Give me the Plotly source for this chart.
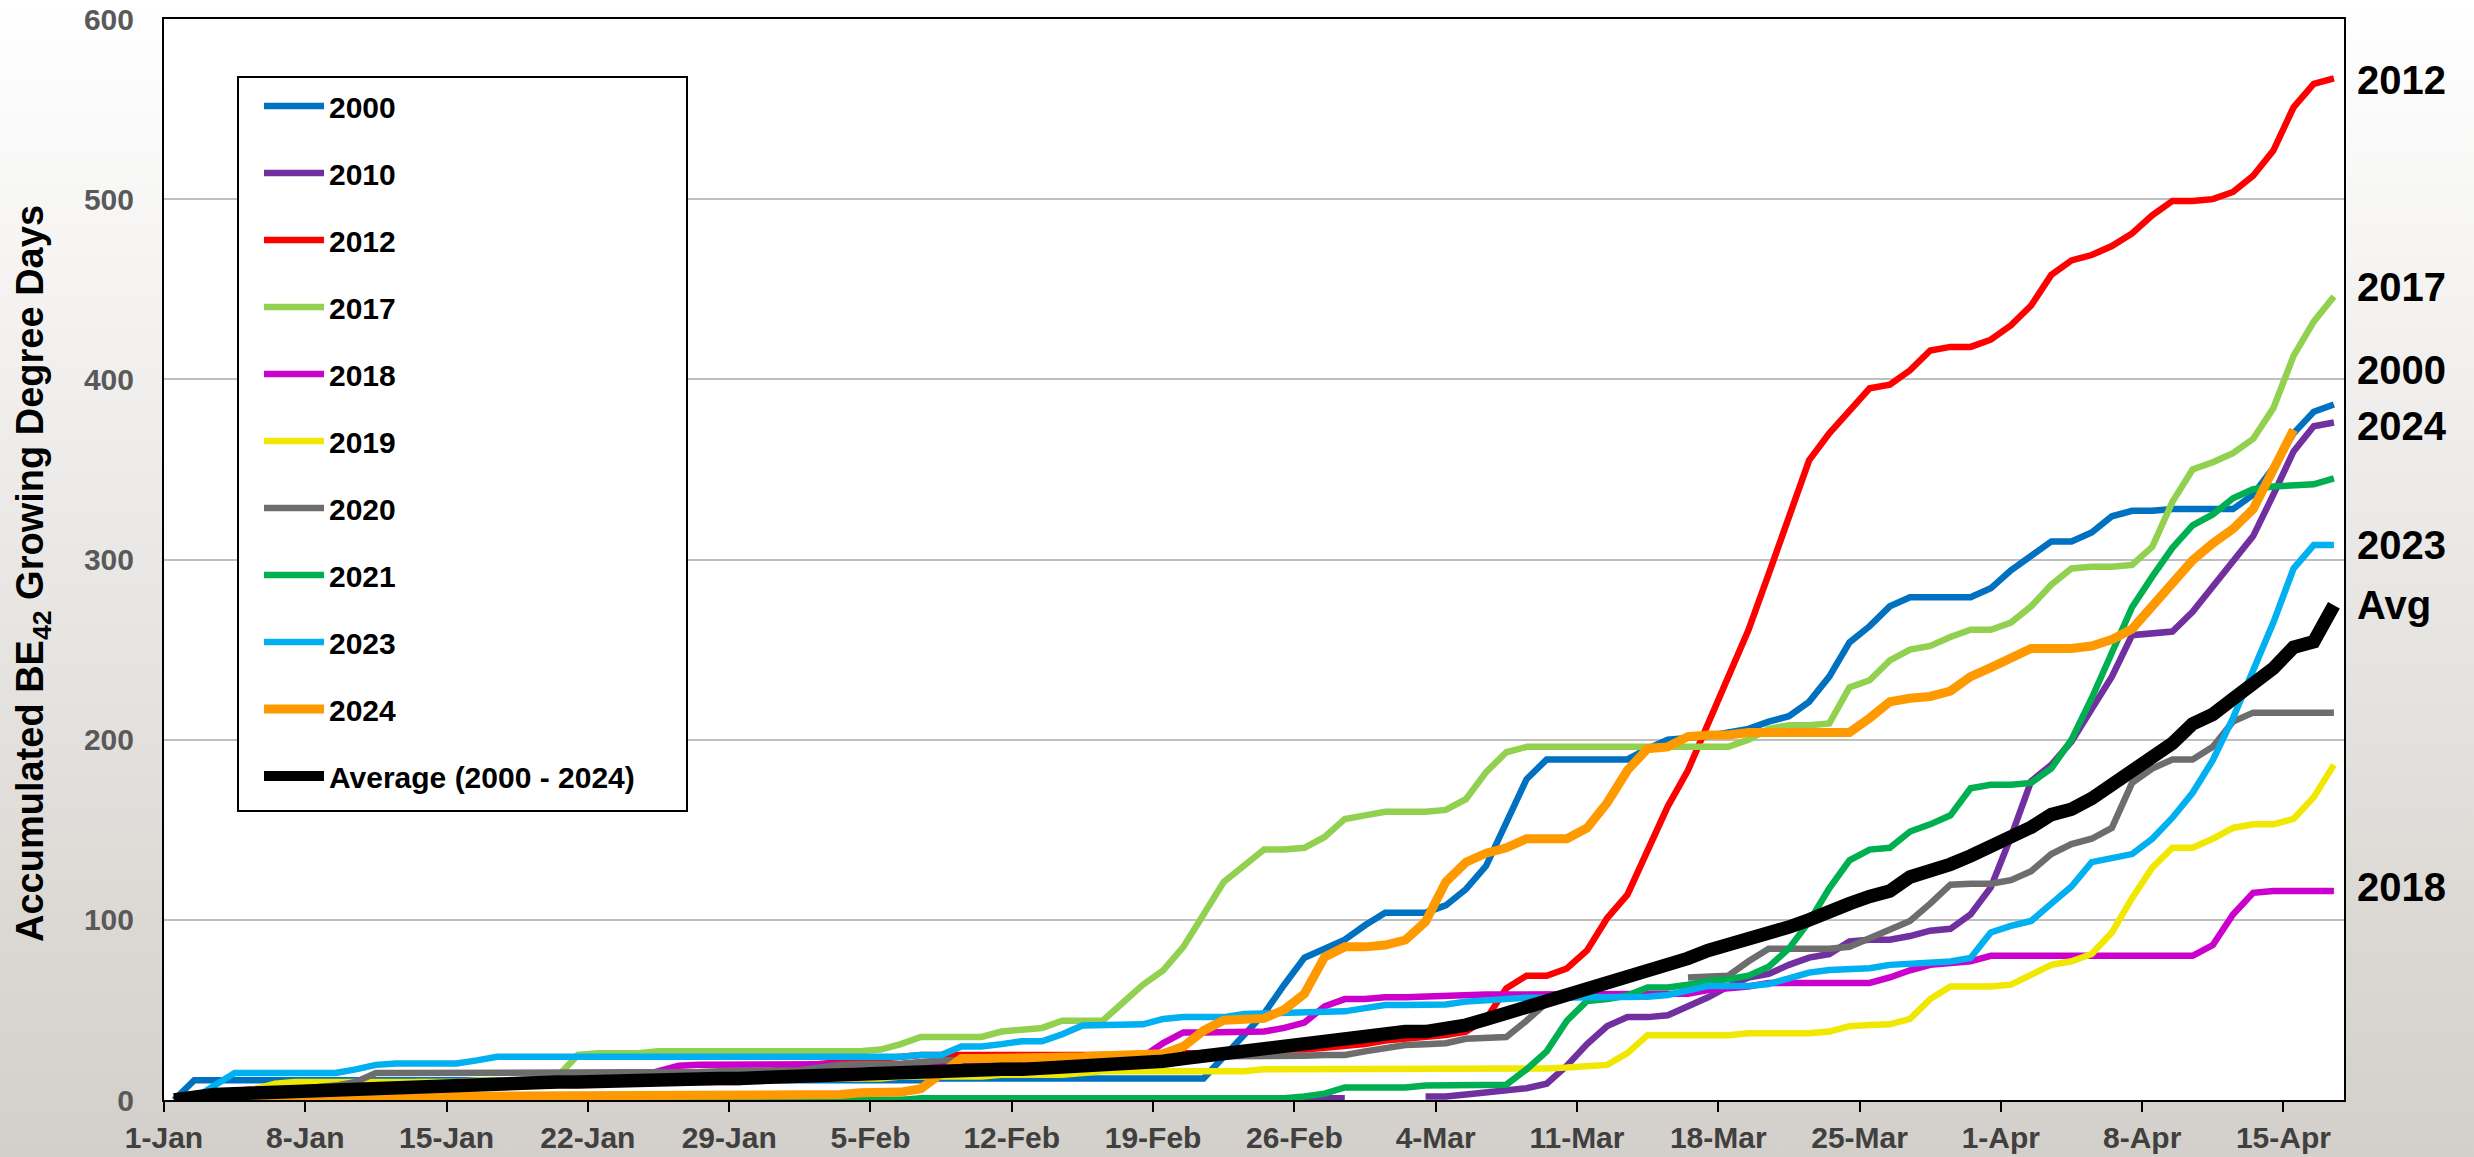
import base64
import pandas as pd
import plotly.graph_objects as go

# ---------------- data (daily accumulated BE42 GDD, 1-Jan .. 17-Apr) ----------------
N_DAYS = 108
day_dates = pd.date_range("2024-01-01 12:00", periods=N_DAYS, freq="D")

y2000 = [
    0, 11, 11, 11, 11, 11, 11, 11, 11, 11,
    11, 11, 11, 11, 11, 11, 11, 11, 11, 11,
    11, 11, 11, 11, 11, 11, 11, 11, 11, 11,
    11, 11, 11, 11, 11, 11, 11, 11, 12, 12,
    12, 12, 12, 12, 12, 12, 12, 12, 12, 12,
    12, 12, 24, 36, 48, 64, 79, 84, 89, 97,
    104, 104, 104, 108, 117, 130, 154, 178, 189, 189,
    189, 189, 189, 195, 200, 201, 202, 204, 206, 210,
    213, 221, 235, 254, 263, 274, 279, 279, 279, 279,
    284, 294, 302, 310, 310, 315, 324, 327, 327, 328,
    328, 328, 328, 336, 351, 370, 382, 386,
]
y2010 = [
    0, 0, 0, 0, 0, 0, 0, 0, 0, 0,
    0, 0, 0, 0, 0, 0, 0, 0, 0, 0,
    0, 0, 0, 0, 0, 0, 0, 0, 0, 0,
    0, 0, 0, 0, 0, 0, 0, 0, 0, 0,
    1, 1, 1, 1, 1, 1, 1, 1, 1, 1,
    1, 1, 1, 1, 1, 1, 1, 1, 1, None,
    None, None, 2, 2, 3, 4, 5, 6.5, 9, 19,
    31, 41, 46, 46, 47, 52, 57, 63, 68, 70,
    75, 79, 81, 88, 89, 89, 91, 94, 95, 103,
    118, 146, 177, 186, 199, 217, 235, 258, 259, 260,
    271, 285, 299, 313, 336, 360, 374, 376,
]
y2012 = [
    0, 2, 4, 5, 6, 8, 8, 8, 8, 9,
    9, 9, 9, 9, 10, 10, 10, 10, 10, 10,
    10, 10, 10, 10, 10, 10, 10, 10, 10, 11,
    18, 19, 20, 21, 22, 23, 24, 25, 25, 25,
    25, 25, 25, 25, 25, 25, 25, 25, 25, 26,
    26, 26, 27, 27, 27, 28, 28, 29, 30, 31,
    33, 34, 35, 36, 38, 45, 62, 69, 69, 73,
    83, 101, 114, 138, 163, 183, 209, 233, 261, 292,
    324, 355, 370, 383, 395, 397, 405, 416, 418, 418,
    422, 430, 441, 458, 466, 469, 474, 481, 491, 499,
    499, 500, 504, 513, 527, 551, 564, 567,
]
y2017 = [
    0, 0, 1, 2, 3, 4, 5, 5, 6, 7,
    8, 9, 10, 10, 10, 11, 11, 11, 12, 13,
    25, 26, 26, 26, 27, 27, 27, 27, 27, 27,
    27, 27, 27, 27, 27, 28, 31, 35, 35, 35,
    35, 38, 39, 40, 44, 44, 44, 54, 64, 72,
    85, 103, 121, 130, 139, 139, 140, 146, 156, 158,
    160, 160, 160, 161, 167, 182, 193, 196, 196, 196,
    196, 196, 196, 196, 196, 196, 196, 196, 200, 206,
    208, 208, 209, 229, 233, 244, 250, 252, 257, 261,
    261, 265, 274, 286, 295, 296, 296, 297, 307, 332,
    350, 354, 359, 367, 384, 413, 432, 446,
]
y2018 = [
    0, 0, 1, 2, 3, 4, 5, 6, 7, 8,
    8, 9, 9, 9, 10, 10, 10, 11, 11, 11,
    12, 12, 13, 13, 16, 19, 19.5, 19.5, 19.5, 19.5,
    19.5, 19.5, 19.5, 19.5, 20, 20, 20, 21, 21, 21,
    21, 22, 22, 22, 22, 22, 22, 23, 24, 31.6,
    37.5, 37.5, 37.5, 38, 38, 40, 43, 52, 56, 56,
    57, 57, 57.5, 58, 58.5, 58.5, 58.5, 58.5, 58.5, 58.5,
    58.5, 58.5, 58.5, 58.5, 58.5, 59, 61, 62, 63, 65,
    65, 65, 65, 65, 65, 68, 72, 75, 76, 77,
    80, 80, 80, 80, 80, 80, 80, 80, 80, 80,
    80, 86, 103, 115, 116, 116, 116, 116,
]
y2019 = [
    0, 1, 2, 4, 6, 9, 10, 10, 10, 10,
    10, 10, 10, 10, 10, 10, 10, 10, 10, 10,
    10, 11, 11, 11, 11, 11, 11, 11, 11, 11,
    11, 12, 12, 12, 12, 12, 13, 13, 13, 13,
    13, 14, 14, 14, 14, 15, 16, 16, 16, 16,
    16, 16, 16, 16, 17, 17, 17, 17, 17, 17,
    17, 17, 17, 17, 17, 17, 17, 17, 17.5, 18,
    18.5, 19.5, 26, 36, 36, 36, 36, 36, 37, 37,
    37, 37, 38, 41, 41.6, 42, 45, 56, 63, 63,
    63, 64, 70, 75, 77, 81, 93, 112, 129, 140,
    140, 145, 151, 153, 153, 156, 168, 186,
]
y2020 = [
    0, 1, 2, 3, 4, 5, 6, 7, 8, 10,
    15, 15, 15, 15, 15, 15, 15, 15, 15, 15,
    15, 15, 15, 15, 15, 15.5, 15.5, 16, 16, 16,
    16, 16.5, 18, 19.5, 20, 20, 20, 21, 22, 22,
    22, 22, 23, 23, 23, 23, 23, 23, 24, 24,
    24, 24, 24, 24, 24, 24, 24.5, 25, 25, 27,
    29, 30.5, 31, 31.5, 34, 34.5, 35, 44, 54, None,
    None, None, None, None, None, 68, 68.5, 69, 77, 84,
    84, 84, 84, 85, 90, 94.5, 99.4, 109, 119.5, 120,
    120, 122, 127, 136.5, 142, 145, 151, 176, 184, 189,
    189, 196, 210, 215, 215, 215, 215, 215,
]
y2021 = [
    0, 0, 0, 0, 0, 0, 0, 0, 0, 0,
    0, 0, 0, 0, 0, 0, 0, 0, 0, 0,
    0, 0, 0, 0, 0, 0, 0, 0, 0, 0,
    0, 0, 0, 0, 0, 0, 0, 1, 1, 1,
    1, 1, 1, 1, 1, 1, 1, 1, 1, 1,
    1, 1, 1, 1, 1, 1, 2, 3.5, 7, 7,
    7, 7, 8, 8, 8, 8, 8.5, 17, 27, 44,
    55, 56, 58, 62.5, 62.5, 64, 66, 67, 69, 74,
    84, 99, 117.5, 133, 139, 140, 149, 153, 158, 173,
    175, 175, 176, 184, 200, 223, 248, 273.5, 290.5, 306.5,
    319, 325, 334, 339, 340.5, 341, 341.7, 345,
]
y2023 = [
    0, 1, 8, 15, 15, 15, 15, 15, 15, 17,
    19.5, 20.3, 20.3, 20.3, 20.3, 22, 24, 24, 24, 24,
    24, 24, 24, 24, 24, 24, 24, 24, 24, 24,
    24, 24, 24, 24, 24, 24, 24, 25, 25, 29.7,
    29.7, 31, 32.6, 32.6, 36.5, 41.4, 41.4, 41.4, 42, 45,
    46, 46, 46, 47.8, 48.2, 48.2, 48.6, 48.6, 49.2, 51,
    52.7, 52.7, 52.7, 53, 54.6, 55.5, 56.7, 56.8, 56.8, 56.8,
    56.8, 56.8, 56.8, 57.3, 58.3, 61, 63.3, 63.3, 63.3, 64.4,
    67.5, 70.7, 72.2, 73.1, 73.1, 75, 75.9, 76.4, 76.9, 78.8,
    93, 96.6, 99.4, 109, 118.5, 132, 134.4, 136.5, 145, 156.7,
    170.5, 188.6, 212, 237.4, 265, 295, 308, 308,
]
y2024 = [
    0, 0, 0, 0, 0, 0, 0, 1, 1, 1,
    1, 1, 1, 2, 2, 2, 2, 2, 2, 2,
    2, 2, 2, 2, 2, 2, 2, 2, 2, 2,
    2, 2, 3, 3, 4, 4.4, 4.4, 6.3, 15, 23,
    23, 23, 23.5, 23.5, 24, 24, 24.5, 24.5, 25, 25.7,
    29.7, 38.5, 44.3, 45.3, 45.3, 50.2, 59, 79.4, 85, 85,
    86, 88.8, 99, 121, 132, 137, 140, 145, 145, 145,
    151, 165, 183, 195, 196, 201.7, 202.6, 202.6, 204, 204,
    204, 204, 204, 204, 212, 221, 223, 224, 227, 235,
    240, 246, 250.6, 250.6, 250.6, 252, 255.6, 261.4, 274.7, 288,
    299.6, 309, 317, 328, 351, 372, None, None,
]
y_avg = [
    0, 2, 3, 3.5, 4, 4.5, 5, 5.5, 6, 6.5,
    7, 7.5, 8, 8, 8.5, 9, 9, 9.5, 9.5, 10,
    10, 10.5, 10.5, 11, 11, 11.5, 11.5, 12, 12, 12.5,
    12.5, 13, 13, 13.5, 13.5, 14, 14.5, 15, 15.5, 16,
    16.5, 17, 17, 17.5, 18, 18.5, 19, 19.5, 20.5, 21.5,
    23, 24.5, 26, 27.5, 28.7, 30, 31, 33, 34.6, 36,
    37, 38, 38, 39, 41.6, 44.8, 48, 51.8, 55.5, 59,
    62, 64.8, 68.4, 72, 75, 78.6, 83, 86, 88.8, 92.5,
    96, 100, 103.6, 109, 113, 116, 123.8, 127, 130.8, 135.5,
    140.8, 145.7, 151.4, 158.4, 161.4, 167.3, 174.8, 181.8, 188.6, 198,
    208.8, 214, 222.6, 230, 239.6, 251.3, 254.4, 274.6,
]

series_names = ["2000", "2010", "2012", "2017", "2018", "2019", "2020",
                "2021", "2023", "2024", "Average (2000 - 2024)"]
series_values = [y2000, y2010, y2012, y2017, y2018, y2019, y2020,
                 y2021, y2023, y2024, y_avg]

# end-of-line labels on the right side (text and the GDD level they sit at)
end_labels = ["2012", "2017", "2000", "2024", "2023", "Avg", "2018"]
end_label_levels = [566, 451, 405, 374, 308, 275, 118]

y_tick_values = [0, 100, 200, 300, 400, 500, 600]

# ---------------- styles ----------------
colors = ["#0070C0", "#7030A0", "#FF0000", "#92D050", "#CC00CC", "#F0E800",
          "#6D6D6D", "#00B050", "#00B0F0", "#FF9900", "#000000"]
widths = [6.5, 6.5, 6.5, 6.5, 6.5, 6.5, 6.5, 6.5, 6.5, 9, 13.5]

W, H = 2474, 1157
ML, MR, MT, MB = 164, 130, 19, 57
PW, PH = W - ML - MR, H - MT - MB

FONT = "Liberation Sans, Arial, sans-serif"

fig = go.Figure()
for i, (name, vals, col, lw) in enumerate(zip(series_names, series_values, colors, widths)):
    fig.add_trace(go.Scatter(
        x=day_dates, y=vals, name=name, mode="lines",
        line=dict(color=col, width=lw),
        legendgroup=f"g{i}", connectgaps=False, hoverinfo="skip",
    ))

# background gradient (page) via an inline SVG image, white plot area on top of it
svg = ('<svg xmlns="http://www.w3.org/2000/svg" viewBox="0 0 1 1" preserveAspectRatio="none">'
       '<defs><linearGradient id="g" x1="0" y1="0" x2="0" y2="1">'
       '<stop offset="0" stop-color="#FFFFFF"/><stop offset="1" stop-color="#D3CFCA"/>'
       '</linearGradient></defs><rect x="0" y="0" width="1" height="1" fill="url(#g)"/></svg>')
src = "data:image/svg+xml;base64," + base64.b64encode(svg.encode()).decode()

# legend frame (pixel box of the reference legend)
LEG_L, LEG_R, LEG_T, LEG_B = 238, 687, 77, 811

annotations = [dict(
    text="Accumulated BE<sub>42</sub> Growing Degree Days",
    xref="paper", yref="paper", x=(33 - ML) / PW, y=(H - MB - 574) / PH,
    textangle=-90, showarrow=False, xanchor="center", yanchor="middle",
    font=dict(family=FONT, size=38, color="black", weight="bold"),
)]
for txt, lvl in zip(end_labels, end_label_levels):
    annotations.append(dict(
        text=txt, xref="paper", yref="y", x=(2355 - ML) / PW, y=lvl,
        showarrow=False, xanchor="left", yanchor="middle",
        font=dict(family=FONT, size=40, color="black", weight="bold"),
    ))

fig.update_layout(
    width=W, height=H,
    margin=dict(l=ML, r=MR, t=MT, b=MB, autoexpand=False),
    paper_bgcolor="#E8E6E3",
    plot_bgcolor="white",
    images=[dict(source=src, xref="paper", yref="paper",
                 x=-ML / PW, y=1 + MT / PH, sizex=W / PW, sizey=H / PH,
                 sizing="stretch", layer="below", xanchor="left", yanchor="top")],
    shapes=[
        dict(type="rect", xref="paper", yref="paper", x0=0, x1=1, y0=0, y1=1,
             fillcolor="white", line=dict(width=0), layer="below"),
        dict(type="rect", xref="paper", yref="paper",
             x0=(LEG_L - ML) / PW, x1=(LEG_R - ML) / PW,
             y0=(H - MB - LEG_B) / PH, y1=(H - MB - LEG_T) / PH,
             fillcolor="white", line=dict(color="black", width=2), layer="above"),
    ],
    showlegend=True,
    legend=dict(
        x=(LEG_L + 21 - ML) / PW, y=(H - MB - LEG_T - 3) / PH, xanchor="left", yanchor="top",
        bgcolor="rgba(0,0,0,0)", borderwidth=0,
        font=dict(family=FONT, size=30, color="black", weight="bold"),
        tracegroupgap=25, itemwidth=60, traceorder="grouped",
    ),
    xaxis=dict(
        type="date", range=["2024-01-01", "2024-04-18"],
        tick0="2024-01-01", dtick=7 * 86400000, tickformat="%-d-%b",
        ticks="outside", ticklen=10, tickwidth=2, tickcolor="black",
        showline=True, linecolor="black", linewidth=2, mirror=True,
        showgrid=False, zeroline=False,
        tickfont=dict(family=FONT, size=30, color="#404040", weight="bold"),
    ),
    yaxis=dict(
        range=[0, 600], tickvals=y_tick_values,
        showgrid=True, gridcolor="#BFBFBF", gridwidth=2,
        showline=True, linecolor="black", linewidth=2, mirror=True,
        ticks="", zeroline=False, ticklabelstandoff=22,
        tickfont=dict(family=FONT, size=30, color="#595959", weight="bold"),
    ),
    annotations=annotations,
)

fig.write_html(
    "out.html",
    config={"displayModeBar": False},
    post_script="document.body.style.margin='0';document.body.style.overflow='hidden';",
)
